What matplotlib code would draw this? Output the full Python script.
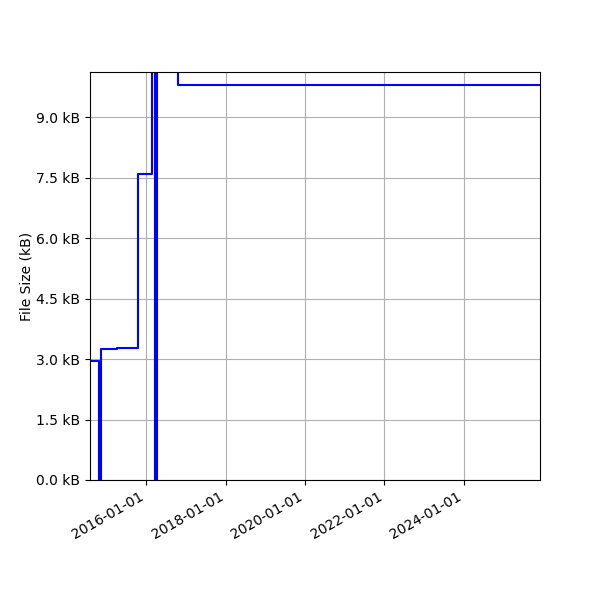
import matplotlib
matplotlib.use('Agg')
import matplotlib.pyplot as plt
import matplotlib.dates as mdates
from matplotlib.ticker import MultipleLocator, FuncFormatter
import pandas as pd

# File size history (kB), one entry per change
dates = ['2014-08-04', '2014-10-25', '2014-11-12', '2015-04-09', '2015-10-19',
         '2016-02-28', '2016-03-25', '2016-04-12', '2016-10-17', '2025-12-01']
sizes_kb = [2.95, 0.0, 3.26, 3.27, 7.59, 10.4, 0.0, 10.4, 9.8, 9.8]

dates = pd.to_datetime(dates)

fig, ax = plt.subplots(figsize=(6, 6), dpi=100)
ax.plot(dates, sizes_kb, color='blue', drawstyle='steps-post', linewidth=1.5)

ax.set_xlim(dates[0], dates[-1])
ax.set_ylim(0, 10.12)

ax.yaxis.set_major_locator(MultipleLocator(1.5))
ax.yaxis.set_major_formatter(FuncFormatter(lambda v, pos: f'{v:.1f} kB'))
ax.xaxis.set_major_locator(mdates.YearLocator(2))
ax.xaxis.set_major_formatter(mdates.DateFormatter('%Y-%m-%d'))

ax.set_ylabel('File Size (kB)', labelpad=2)
ax.grid(True)

fig.autofmt_xdate()
fig.subplots_adjust(left=0.15, right=0.9, top=0.88, bottom=0.2)

plt.savefig('out.png')
